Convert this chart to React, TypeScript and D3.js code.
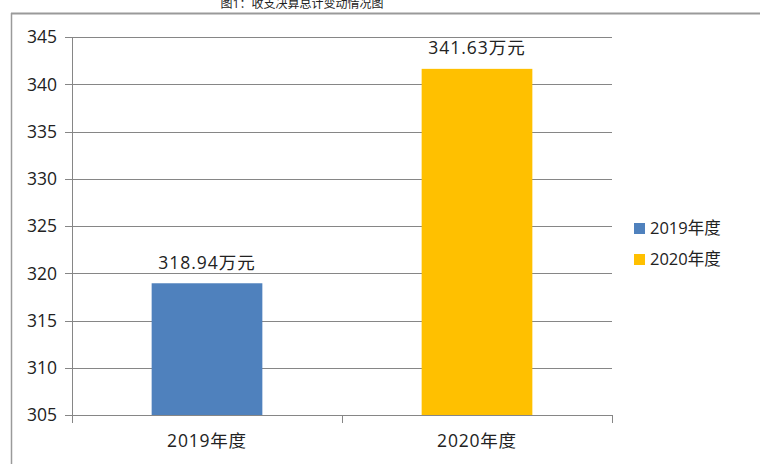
import React from "react";
import * as d3 from "d3";

const categories = ["2019年度", "2020年度"];
const values = [318.94, 341.63];
const valueLabels = ["318.94万元", "341.63万元"];
const colors = ["#4F81BD", "#FFC000"];
const yTicks = [305, 310, 315, 320, 325, 330, 335, 340, 345];
const title = "图1：收支决算总计变动情况图";

const W = 760;
const H = 464;
const FONT = "'Open Sans', 'Noto Sans CJK SC', sans-serif";

export default function App() {
  const left = 72;
  const right = 612;
  const top = 37;
  const bottom = 415;
  const x = d3.scaleBand<string>().domain(categories).range([left, right]).paddingInner(0.59).paddingOuter(0.295);
  const bandX = d3.scaleBand<string>().domain(categories).range([left, right]);
  const y = d3.scaleLinear().domain([305, 345]).range([bottom, top]);

  return (
    <svg width={W} height={H} style={{ position: "absolute", left: 0, top: 0, background: "#fff" }} fontFamily={FONT}>
      <text x={302} y={8} textAnchor="middle" fontSize={12} fill="#222">{title}</text>
      <line x1={11} x2={W} y1={13.5} y2={13.5} stroke="#9a9a9a" strokeWidth={2} />
      <line x1={11.5} x2={11.5} y1={13} y2={H} stroke="#9a9a9a" strokeWidth={1.5} />
      {yTicks.map((t) => (
        <g key={t}>
          <line x1={65} x2={right} y1={Math.round(y(t)) + 0.5} y2={Math.round(y(t)) + 0.5} stroke="#868686" strokeWidth={1} />
          <text x={57} y={y(t)} dy="0.36em" textAnchor="end" fontSize={17.5} fill="#222">{t}</text>
        </g>
      ))}
      {categories.map((c, i) => (
        <g key={c}>
          <rect x={x(c)} y={y(values[i])} width={x.bandwidth()} height={bottom - y(values[i])} fill={colors[i]} />
          <text x={(x(c) as number) + x.bandwidth() / 2} y={y(values[i]) - 21} dy="0.36em" textAnchor="middle" fontSize={17.5} letterSpacing={1} fill="#222">{valueLabels[i]}</text>
          <text x={(bandX(c) as number) + bandX.bandwidth() / 2} y={441} dy="0.36em" textAnchor="middle" fontSize={17.5} letterSpacing={0.8} fill="#222">{c}</text>
        </g>
      ))}
      <line x1={left + 0.5} x2={left + 0.5} y1={top} y2={bottom + 8} stroke="#868686" />
      {[left, left + bandX.bandwidth(), right].map((tx, i) => (
        <line key={i} x1={Math.round(tx) + 0.5} x2={Math.round(tx) + 0.5} y1={bottom} y2={bottom + 8} stroke="#868686" />
      ))}
      {categories.map((c, i) => (
        <g key={c} transform={`translate(634, ${228 + i * 31})`}>
          <rect x={0} y={-5} width={11} height={11} fill={colors[i]} />
          <text x={16} y={0} dy="0.36em" fontSize={16.5} fill="#222">{c}</text>
        </g>
      ))}
    </svg>
  );
}
